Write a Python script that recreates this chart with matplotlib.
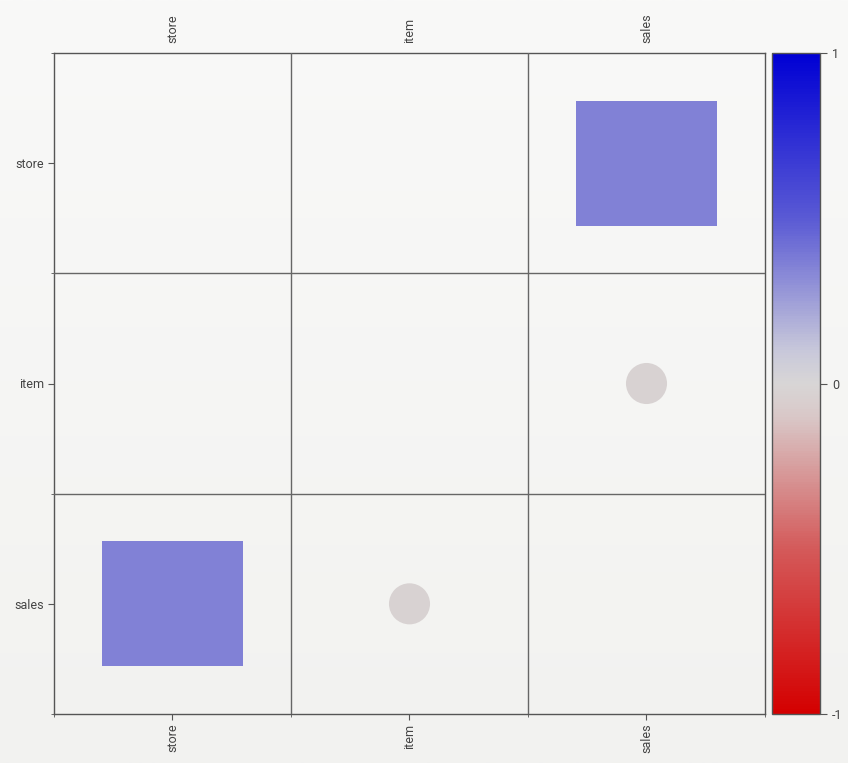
import numpy as np
import matplotlib
matplotlib.use("Agg")
import matplotlib.pyplot as plt
from matplotlib.colors import LinearSegmentedColormap, Normalize
from matplotlib.patches import Rectangle, Ellipse

plt.rcParams['font.family'] = ['Roboto', 'DejaVu Sans']

variables = ["store", "item", "sales"]
# correlations (off-diagonal cells, mirrored), diagonal empty
corr_pairs = [("store", "sales", 0.355, "square"),
              ("item", "sales", -0.03, "circle")]
cbar_ticks = [-1, 0, 1]
cbar_labels = ["-1", "0", "1"]

cmap = LinearSegmentedColormap.from_list(
    "rwb", [(0.0, "#d40000"), (0.25, "#d45a5a"), (0.45, "#d9c8c8"),
            (0.5, "#d8d6d6"), (0.55, "#c8c8da"),
            (0.75, "#5a5ad4"), (1.0, "#0000d4")])
norm = Normalize(-1, 1)

W, H = 848, 763
fig = plt.figure(figsize=(W / 100, H / 100), dpi=100)

# background gradient
bg = fig.add_axes([0, 0, 1, 1], zorder=-10)
grad = np.linspace(0, 1, 256).reshape(-1, 1)
top = np.array([249, 249, 248]) / 255
bot = np.array([242, 242, 240]) / 255
img = top[None, None, :] * (1 - grad[..., None]) + bot[None, None, :] * grad[..., None]
bg.imshow(img, aspect="auto", extent=[0, 1, 0, 1])
bg.axis("off")

ax = fig.add_axes([54 / W, 1 - 714 / H, (765 - 54) / W, (714 - 53) / H])
ax.set_facecolor("none")
n = len(variables)
ax.set_xlim(0, n)
ax.set_ylim(n, 0)

idx = {v: i for i, v in enumerate(variables)}
cell_w_px = (765 - 54) / n
cell_h_px = (714 - 53) / n

for a, b, r, shape in corr_pairs:
    for (row, col) in [(idx[a], idx[b]), (idx[b], idx[a])]:
        color = cmap(norm(r))
        s = np.sqrt(abs(r))
        cx, cy = col + 0.5, row + 0.5
        if shape == "square":
            w = s
            h = s * 0.95
            ax.add_patch(Rectangle((cx - w / 2, cy - h / 2), w, h,
                                   facecolor=color, edgecolor="none", zorder=2))
        else:
            w = s
            h = s * cell_w_px / cell_h_px
            ax.add_patch(Ellipse((cx, cy), w, h, facecolor=color,
                                 edgecolor="none", zorder=2))

# grid lines
for k in range(1, n):
    ax.axvline(k, color="#666666", lw=1.0, zorder=3)
    ax.axhline(k, color="#666666", lw=1.0, zorder=3)

for sp in ax.spines.values():
    sp.set_color("#555555")
    sp.set_linewidth(1.0)

ticks = np.arange(n) + 0.5
ax.set_xticks(ticks)
ax.set_xticklabels(variables, rotation=90)
ax.set_yticks(ticks)
ax.set_yticklabels(variables)
ax.set_xticks(np.arange(n + 1), minor=True)
ax.set_yticks(np.arange(n + 1), minor=True)
ax.tick_params(axis="both", which="major", length=4, color="#555555",
               labelsize=9, labelcolor="#444444", pad=3)
ax.tick_params(axis="both", which="minor", length=2, color="#555555")
ax.tick_params(axis="x", which="major", top=False, labeltop=True,
               bottom=True, labelbottom=True)

# colorbar
cax = fig.add_axes([772 / W, 1 - 714 / H, (820 - 772) / W, (714 - 53) / H])
sm = plt.cm.ScalarMappable(norm=norm, cmap=cmap)
cb = fig.colorbar(sm, cax=cax, ticks=cbar_ticks)
cb.ax.set_yticklabels(cbar_labels)
cb.outline.set_edgecolor("#555555")
cb.outline.set_linewidth(1.0)
cb.ax.tick_params(length=5, color="#555555", labelsize=9, labelcolor="#444444")

fig.savefig("out.png", dpi=100)
